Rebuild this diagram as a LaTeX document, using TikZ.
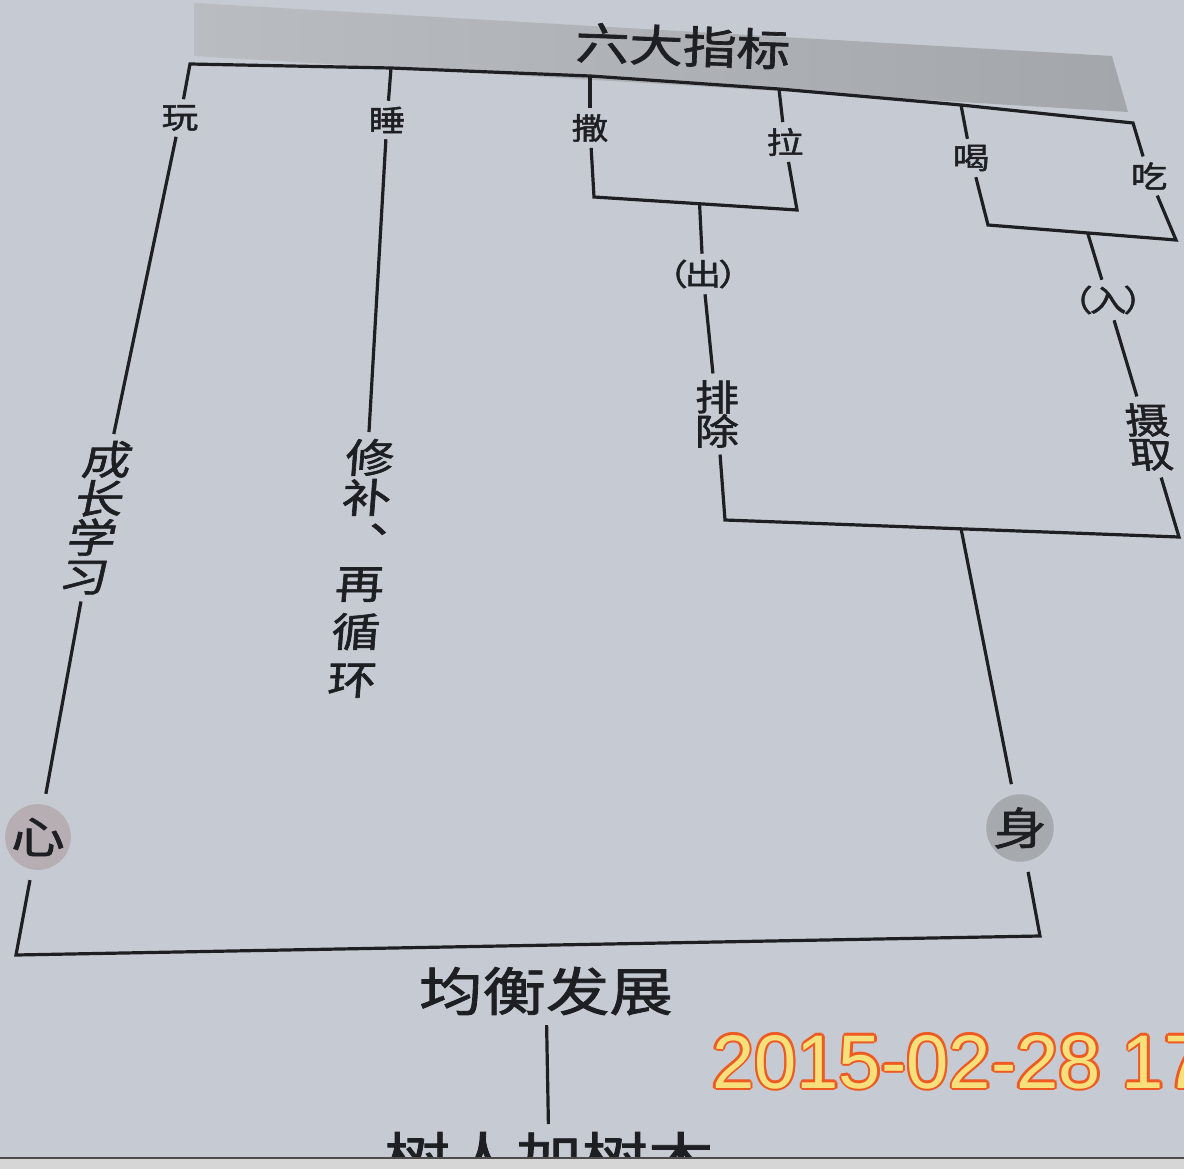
\documentclass[tikz,border=0pt]{standalone}
\usepackage{fontspec}
\setmainfont{Liberation Sans}
\newfontfamily\cjk[FakeStretch=1.22,FakeBold=1.6]{Noto Sans CJK SC}
\usetikzlibrary{calc}
\definecolor{paper}{HTML}{C6CBD3}
\definecolor{inkc}{HTML}{1E1F23}
\definecolor{bandl}{HTML}{B9BCC0}
\definecolor{bandr}{HTML}{A3A6AA}
\definecolor{xinc}{HTML}{B6AEB2}
\definecolor{shenc}{HTML}{A6A9AD}
\definecolor{tsorange}{HTML}{EE5A22}
\definecolor{tsyellow}{HTML}{F6E07C}
\definecolor{stripc}{HTML}{D6D6D6}
\newcommand\tsout[1]{%
  \def\tsoff##1##2{\rlap{\kern##1\raisebox{##2}{\textcolor{tsorange}{#1}}}}%
  \tsoff{2.4pt}{0pt}\tsoff{-2.4pt}{0pt}\tsoff{0pt}{2.4pt}\tsoff{0pt}{-2.4pt}%
  \tsoff{1.7pt}{1.7pt}\tsoff{-1.7pt}{1.7pt}\tsoff{1.7pt}{-1.7pt}\tsoff{-1.7pt}{-1.7pt}%
  \textcolor{tsyellow}{#1}}
\begin{document}
\begin{tikzpicture}[x=1pt,y=-1pt,
  ln/.style={draw=inkc,line width=3.2pt,line join=miter},
  lab/.style={text=inkc,inner sep=1pt,outer sep=5pt,font=\cjk\fontsize{30}{30}\selectfont},
  vlab/.style={text=inkc,inner sep=1pt,outer sep=6pt,align=center},
  disc/.style={circle,minimum size=62pt,inner sep=0pt,outer sep=11pt,text=inkc,font=\cjk\fontsize{44}{44}\selectfont}
]
\useasboundingbox (0,0) rectangle (1184,1169);
\clip (0,0) rectangle (1184,1169);
\fill[paper] (0,0) rectangle (1184,1169);
% header band
\shade[left color=bandl,right color=bandr] (194,3) -- (1112,56) -- (1128,112) -- (194,56) -- cycle;
\node[text=inkc,inner sep=0pt,rotate=-2,font=\cjk\fontsize{44}{44}\selectfont] (title) at (683,46) {六大指标};
% top line junctions
\coordinate (TL) at (190,64);
\coordinate (Tsleep) at (391,68);
\coordinate (Tsa) at (590,76);
\coordinate (Tla) at (779,89);
\coordinate (The) at (961,105);
\coordinate (TR) at (1133,123);
% small labels
\node[lab] (wan) at (180,118) {玩};
\node[lab] (shui) at (387,120) {睡};
\node[lab] (sa) at (590,128) {撒};
\node[lab] (la) at (785,142) {拉};
\node[lab] (he) at (971,158) {喝};
\node[lab] (chi) at (1149,176) {吃};
\coordinate (Csa) at (594,197);
\coordinate (Cla) at (797,210);
\coordinate (Che) at (988,225);
\coordinate (Cchi) at (1176,240);
\coordinate (Jout) at ($(Csa)!0.52!(Cla)$);
\coordinate (Jin) at ($(Che)!0.53!(Cchi)$);
\node[lab] (chu) at (703,274) {（\hspace{-0.1em}出\hspace{-0.1em}）};
\node[lab] (ru) at (1108,300) {（\hspace{-0.1em}入\hspace{-0.1em}）};
\node[vlab,font=\cjk\fontsize{36}{34}\selectfont] (paichu) at (717,414) {排\\除};
\node[vlab,font=\cjk\fontsize{36}{34}\selectfont,xslant=-0.12] (shequ) at (1149,437) {摄\\取};
\coordinate (Cpc) at (725,520);
\coordinate (Cse) at (1179,537);
\coordinate (Jshen) at ($(Cpc)!0.52!(Cse)$);
\node[vlab,font=\cjk\fontsize{40}{39}\selectfont,xslant=0.2,anchor=north] (cz) at (113,434) {成\\长\\学\\习};
\node[vlab,font=\cjk\fontsize{40}{40}\selectfont,xslant=0.08,anchor=north] (xb) at (372,432)
  {修\\补\\\makebox[1.25em][l]{\hspace{0.75em}\raisebox{0.5em}{、}}\\[6pt]再\\[8pt]循\\[8pt]环};
\node[disc,fill=xinc] (xin) at (38,837) {心};
\node[disc,fill=shenc] (shen) at (1020,828) {身};
\coordinate (BL) at (16,955);
\coordinate (BR) at (1040,936);
\node[text=inkc,inner sep=2pt,outer sep=8pt,font=\cjk\fontsize{52}{52}\selectfont] (jh) at (546,991) {均衡发展};
\node[text=inkc,inner sep=2pt,outer sep=6pt,anchor=north,font=\cjk\fontsize{54}{54}\selectfont] (shu) at (549,1124) {树人加树木};
% connectors
\draw[ln] (wan) -- (TL) -- (Tsleep) -- (Tsa) -- (Tla) -- (The) -- (TR) -- (chi);
\draw[ln] (Tsleep) -- (shui);
\draw[ln] (Tsa) -- (sa);
\draw[ln] (Tla) -- (la);
\draw[ln] (The) -- (he);
\draw[ln] (sa) -- (Csa) -- (Cla) -- (la);
\draw[ln] (he) -- (Che) -- (Cchi) -- (chi);
\draw[ln] (Jout) -- (chu);
\draw[ln] (chu) -- (paichu);
\draw[ln] (paichu) -- (Cpc) -- (Cse) -- (shequ);
\draw[ln] (shequ) -- (ru);
\draw[ln] (ru) -- (Jin);
\draw[ln] (Jshen) -- (shen);
\draw[ln] (shen) -- (BR) -- (BL) -- (xin);
\draw[ln] (wan) -- (cz);
\draw[ln] (cz) -- (xin);
\draw[ln] (shui) -- (xb);
\draw[ln] (jh) -- (shu);
% timestamp
\node[anchor=west,inner sep=0pt,font=\fontsize{76}{76}\selectfont] (ts) at (712,1062) {\tsout{2015-02-28 17}};
% bottom strip
\fill[stripc] (0,1159) rectangle (1184,1169);
\draw[draw=black!70,line width=2pt] (0,1158) -- (1184,1158);
\end{tikzpicture}
\end{document}
